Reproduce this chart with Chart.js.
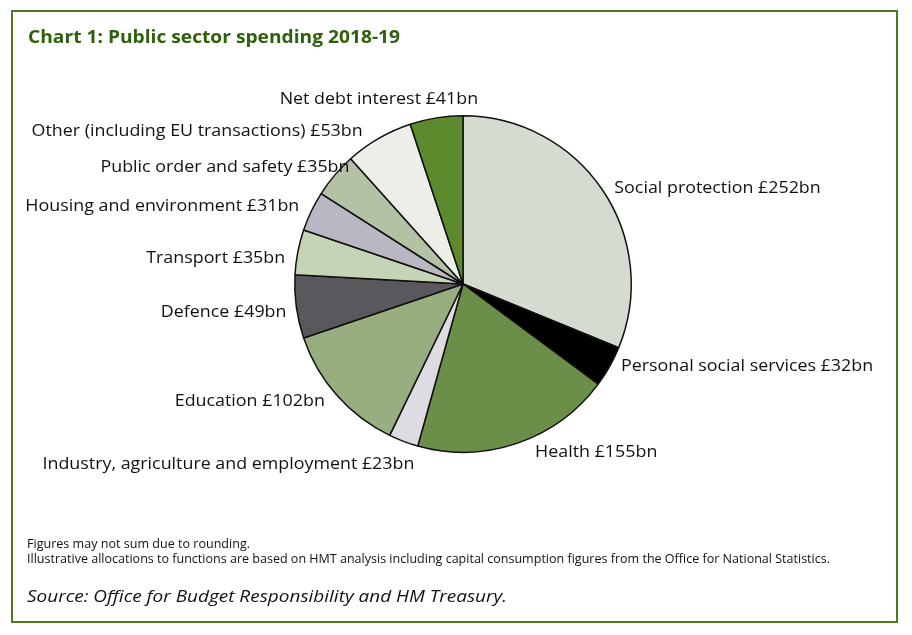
<!DOCTYPE html>
<html>
<head>
<meta charset="utf-8">
<script src="https://cdn.jsdelivr.net/npm/chart.js@4.4.1/dist/chart.umd.min.js"></script>
<style>
  html, body { margin: 0; padding: 0; background: #fff; }
  #wrap { width: 912px; height: 635px; position: relative; }
</style>
</head>
<body>
<div id="wrap"><canvas id="myChart" width="912" height="635"></canvas></div>
<script>
// spending by function, £bn, clockwise from 12 o'clock
var categories = [
  "Social protection", "Personal social services", "Health",
  "Industry, agriculture and employment", "Education", "Defence",
  "Transport", "Housing and environment", "Public order and safety",
  "Other (including EU transactions)", "Net debt interest"
];
var spending = [252, 32, 155, 23, 102, 49, 35, 31, 35, 53, 41];
var sliceColours = [
  "#d4dbd0", "#000000", "#6b8e48", "#dcdce2", "#98ad80", "#58585d",
  "#c5d3b7", "#b9b7c1", "#b3c1a5", "#eceee8", "#5c8a2c"
];
// small nudges so the labels sit where the original puts them
var labelNudge = [
  [-5, 9], [-6, -10], [11, -10], [18, 4], [3, -7], [10, 3],
  [7, 10], [6, 4], [30, 5], [-6, 10], [45, 1]
];

function fitText(ctx, text, x, y, width) {
  var w = ctx.measureText(text).width;
  ctx.save();
  ctx.translate(x, y);
  ctx.scale(width / w, 1);
  ctx.fillText(text, 0, 0);
  ctx.restore();
}

var framePlugin = {
  id: "frame",
  beforeDraw: function (chart) {
    var ctx = chart.ctx;
    ctx.save();
    ctx.fillStyle = "#fff";
    ctx.fillRect(0, 0, chart.width, chart.height);
    ctx.strokeStyle = "#4d7a23";
    ctx.lineWidth = 2;
    ctx.strokeRect(12, 11, 885, 611);

    ctx.fillStyle = "#2f600c";
    ctx.font = "bold 17px 'Open Sans'";
    ctx.textBaseline = "alphabetic";
    fitText(ctx, "Chart 1: Public sector spending 2018-19", 28, 43, 372);

    ctx.fillStyle = "#111";
    ctx.font = "12px 'Open Sans'";
    ctx.textBaseline = "middle";
    fitText(ctx, "Figures may not sum due to rounding.", 27, 545, 223);
    fitText(ctx, "Illustrative allocations to functions are based on HMT analysis including capital consumption figures from the Office for National Statistics.", 27, 560, 803);

    ctx.font = "italic 17px 'Open Sans'";
    fitText(ctx, "Source: Office for Budget Responsibility and HM Treasury.", 27, 597, 480);
    ctx.restore();
  },
  afterDatasetsDraw: function (chart) {
    var ctx = chart.ctx;
    var meta = chart.getDatasetMeta(0);
    ctx.save();
    ctx.fillStyle = "#111";
    ctx.font = "17px 'Open Sans'";
    ctx.textBaseline = "middle";
    meta.data.forEach(function (arc, i) {
      var p = arc.getProps(["x", "y", "startAngle", "endAngle", "outerRadius"], true);
      var mid = (p.startAngle + p.endAngle) / 2;
      var r = p.outerRadius + 20;
      var x = p.x + Math.cos(mid) * r + labelNudge[i][0];
      var y = p.y + Math.sin(mid) * r + labelNudge[i][1];
      ctx.save();
      ctx.translate(x, y);
      ctx.scale(1.05, 1); // the original face is a little wider
      ctx.textAlign = Math.cos(mid) >= 0 ? "left" : "right";
      ctx.fillText(categories[i] + " £" + spending[i] + "bn", 0, 0);
      ctx.restore();
    });
    ctx.restore();
  }
};

var ctx = document.getElementById("myChart").getContext("2d");
var chart = new Chart(ctx, {
  type: "pie",
  data: {
    labels: categories,
    datasets: [
      {
        data: spending,
        backgroundColor: sliceColours,
        borderColor: "#111",
        borderWidth: 1.5,
      },
    ],
  },
  options: {
    responsive: false,
    animation: false,
    layout: {
      padding: { left: 294, right: 280, top: 115, bottom: 182 },
    },
    plugins: {
      legend: { display: false },
      tooltip: { enabled: false },
    },
  },
  plugins: [framePlugin],
});
</script>
</body>
</html>
